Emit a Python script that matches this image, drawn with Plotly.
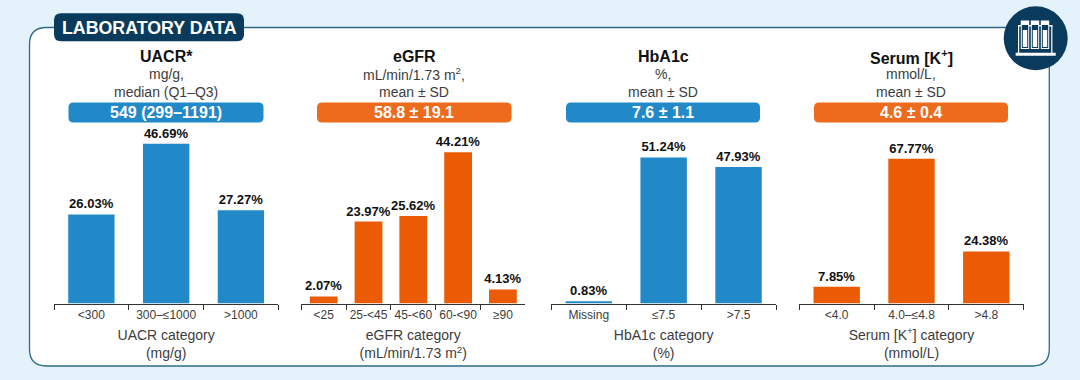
import plotly.graph_objects as go

uacr_cats = ["<300", "300–≤1000", ">1000"]
uacr_vals = [26.03, 46.69, 27.27]
egfr_cats = ["<25", "25-<45", "45-<60", "60-<90", "≥90"]
egfr_vals = [2.07, 23.97, 25.62, 44.21, 4.13]
hba1c_cats = ["Missing", "≤7.5", ">7.5"]
hba1c_vals = [0.83, 51.24, 47.93]
k_cats = ["<4.0", "4.0–≤4.8", ">4.8"]
k_vals = [7.85, 67.77, 24.38]

W, H = 1080, 380
BLUE, ORANGE, NAVY = "#2289C9", "#EA5B04", "#0B3B5C"
PILL_ORANGE = "#EE6A1C"
GREY, BLACK = "#3d3d3d", "#111111"
FONT = "Liberation Sans"
BASE_Y, TOP_Y = 303.5, 132.5


def px(x):
    return x / W


def py(y):
    return 1 - y / H


panels = [
    dict(cats=uacr_cats, vals=uacr_vals, color=BLUE, pillc=BLUE, x0=54, x1=278.3, ymax=50, pill=(68.5, 263.5),
         title="UACR*", sub=("mg/g,", "median (Q1–Q3)"), stat="549 (299–1191)",
         axis="UACR category<br>(mg/g)"),
    dict(cats=egfr_cats, vals=egfr_vals, color=ORANGE, pillc=PILL_ORANGE, x0=301.3, x1=525.3, ymax=50, pill=(317, 511.5),
         title="eGFR", sub=("mL/min/1.73 m<sup>2</sup>,", "mean ± SD"), stat="58.8 ± 19.1",
         axis="eGFR category<br>(mL/min/1.73 m<sup>2</sup>)"),
    dict(cats=hba1c_cats, vals=hba1c_vals, color=BLUE, pillc=BLUE, x0=551.3, x1=776, ymax=60, pill=(566, 760),
         title="HbA1c", sub=("%,", "mean ± SD"), stat="7.6 ± 1.1",
         axis="HbA1c category<br>(%)"),
    dict(cats=k_cats, vals=k_vals, color=ORANGE, pillc=PILL_ORANGE, x0=799.3, x1=1023.7, ymax=80, pill=(814, 1008),
         title="Serum [K<sup>+</sup>]", sub=("mmol/L,", "mean ± SD"), stat="4.6 ± 0.4",
         axis="Serum [K<sup>+</sup>] category<br>(mmol/L)"),
]


def rrect(x0, y0, x1, y1, r):
    xa, xb, ya, yb = px(x0), px(x1), py(y0), py(y1)
    rx, ry = r / W, r / H
    return (f"M{xa+rx},{ya} L{xb-rx},{ya} Q{xb},{ya} {xb},{ya-ry} L{xb},{yb+ry} Q{xb},{yb} {xb-rx},{yb} "
            f"L{xa+rx},{yb} Q{xa},{yb} {xa},{yb+ry} L{xa},{ya-ry} Q{xa},{ya} {xa+rx},{ya} Z")


def shape_path(x0, y0, x1, y1, r, fill, line=None, lw=0):
    return dict(type="path", path=rrect(x0, y0, x1, y1, r), xref="paper", yref="paper",
                fillcolor=fill, line=dict(color=line or fill, width=lw), layer="below")


fig = go.Figure()
layout_axes = {}
annotations = []
shapes = [
    shape_path(29.5, 27.5, 1049.3, 366, 17, "#FFFFFF", "#2F6A86", 1.3),
    shape_path(54, 13.3, 244, 41.3, 7, NAVY),
    dict(type="circle", xref="paper", yref="paper", x0=px(1003.7), x1=px(1067.7), y0=py(70.3), y1=py(6.3),
         fillcolor=NAVY, line=dict(width=0), layer="below"),
]


def icon_rect(x0, y0, x1, y1, color="#FFFFFF"):
    shapes.append(dict(type="rect", xref="paper", yref="paper", x0=px(x0), x1=px(x1), y0=py(y1), y1=py(y0),
                       fillcolor=color, line=dict(width=0), layer="below"))


# test-tube rack icon: posts, top bar, base, then the three tubes
icon_rect(1018, 25, 1019.2, 53)
icon_rect(1051.2, 25, 1052.4, 53)
icon_rect(1018, 25, 1052.4, 26.4)
icon_rect(1015.7, 52.7, 1055.7, 55.7)
for tx in (1025, 1035, 1045):
    icon_rect(tx - 4.2, 20.5, tx + 4.2, 49)
    icon_rect(tx - 3.2, 22, tx + 3.2, 24)
    icon_rect(tx - 3.2, 25, tx + 3.2, 48, NAVY)
    icon_rect(tx - 2.2, 30, tx + 2.2, 47)

annotations.append(dict(x=px(149.7), y=py(27.5), text="<b>LABORATORY DATA</b>",
                        font=dict(family=FONT, size=17.8, color="#FFFFFF")))

for i, p in enumerate(panels, start=1):
    suffix = "" if i == 1 else str(i)
    fig.add_trace(go.Bar(
        x=p["cats"], y=p["vals"], xaxis=f"x{suffix}", yaxis=f"y{suffix}",
        marker=dict(color=p["color"], line=dict(width=0)), width=0.62,
        text=[f"<b>{v:.2f}%</b>" for v in p["vals"]], textposition="outside", cliponaxis=False,
        textangle=0, constraintext="none", textfont=dict(family=FONT, size=13, color=BLACK),
        showlegend=False, hoverinfo="skip",
    ))
    layout_axes[f"xaxis{suffix}"] = dict(
        domain=[px(p["x0"]), px(p["x1"])], anchor=f"y{suffix}", type="category",
        categoryorder="array", categoryarray=p["cats"], range=[-0.5, len(p["cats"]) - 0.5],
        tickson="boundaries", ticks="outside", ticklen=5, tickwidth=1, tickcolor="#333333",
        showline=True, linecolor="#333333", linewidth=1, showgrid=False, tickangle=0,
        tickfont=dict(family=FONT, size=12, color=GREY), fixedrange=True,
        title=dict(text=p["axis"], standoff=9, font=dict(family=FONT, size=14, color=GREY)),
    )
    layout_axes[f"yaxis{suffix}"] = dict(
        domain=[py(BASE_Y), py(TOP_Y)], anchor=f"x{suffix}", range=[0, p["ymax"]],
        visible=False, fixedrange=True,
    )
    cx = (p["pill"][0] + p["pill"][1]) / 2
    shapes.append(shape_path(p["pill"][0], 102.5, p["pill"][1], 122.5, 5, p["pillc"]))
    annotations += [
        dict(x=px(cx), y=py(56.7), text=f"<b>{p['title']}</b>", font=dict(family=FONT, size=16, color=BLACK)),
        dict(x=px(cx), y=py(74.3), text=p["sub"][0], font=dict(family=FONT, size=14, color=GREY)),
        dict(x=px(cx), y=py(91.7), text=p["sub"][1], font=dict(family=FONT, size=14, color=GREY)),
        dict(x=px(cx), y=py(112.5), text=f"<b>{p['stat']}</b>", font=dict(family=FONT, size=16, color="#FFFFFF")),
    ]

for a in annotations:
    a.update(xref="paper", yref="paper", showarrow=False, xanchor="center", yanchor="middle", align="center")

fig.update_layout(
    width=W, height=H, margin=dict(l=0, r=0, t=0, b=0), autosize=False,
    paper_bgcolor="#E4F3FB", plot_bgcolor="rgba(0,0,0,0)",
    shapes=shapes, annotations=annotations, bargap=0.38, **layout_axes,
)

fig.write_html("out.html", config={"displayModeBar": False, "responsive": False},
               post_script="document.body.style.margin='0';document.body.style.overflow='hidden';")
